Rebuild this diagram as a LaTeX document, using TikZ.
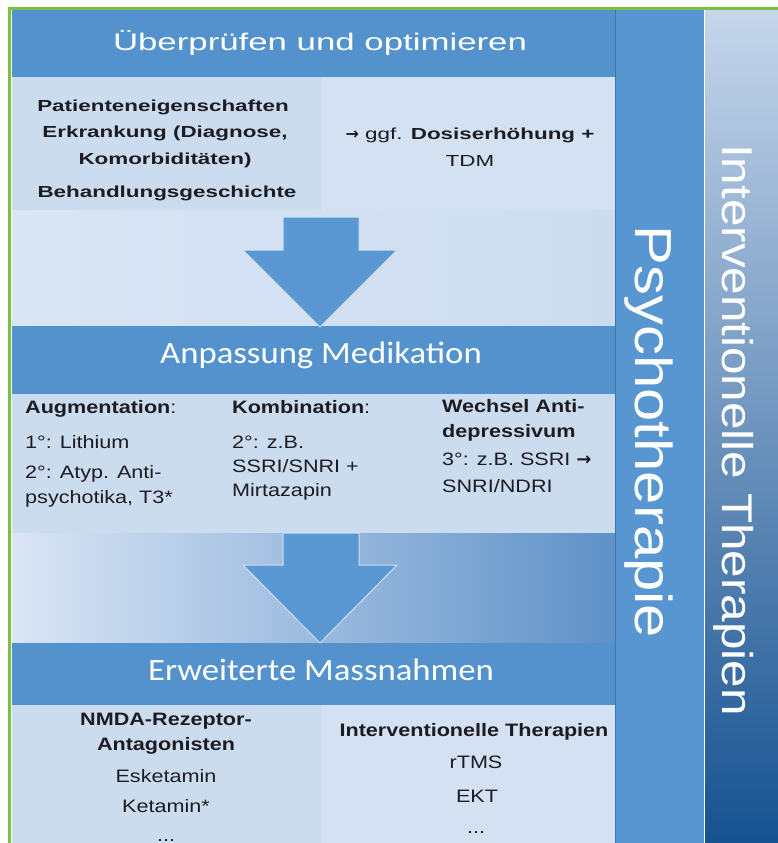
\documentclass[tikz,border=0pt]{standalone}
\usepackage{fontspec}
\usepackage{tikz}
\setmainfont{Liberation Sans}
\newfontfamily\hdfont{Liberation Sans}[FakeStretch=1.45]
\newfontfamily\calfont{Carlito}[FakeStretch=1.12]
\newfontfamily\wideA{Liberation Sans}[FakeStretch=1.4]
\newfontfamily\wideB{Liberation Sans}[FakeStretch=1.2]
\newfontfamily\vertfont{Liberation Sans}[FakeStretch=1.15]
\newfontfamily\arrfont{DejaVu Sans}
\definecolor{frame}{RGB}{122,193,66}
\definecolor{hdr}{RGB}{84,146,205}
\definecolor{cell}{RGB}{204,220,239}
\definecolor{cellB}{RGB}{212,225,242}
\definecolor{zone}{RGB}{218,229,245}
\definecolor{psy}{RGB}{88,150,209}
\definecolor{arrowfill}{RGB}{90,152,212}
\definecolor{ivtop}{RGB}{198,214,235}
\definecolor{ivmid}{RGB}{95,145,200}
\definecolor{ivbot}{RGB}{22,82,145}
\definecolor{txt}{RGB}{28,28,34}

\begin{document}
\begin{tikzpicture}[x=1pt, y=-1pt,
  lbl/.style={inner sep=0pt, anchor=base, text=txt},
  lblL/.style={lbl, anchor=base west, align=left},
  hdrtxt/.style={lbl, text=white},
  vtxt/.style={lbl, text=white, rotate=-90},
  bodyA/.style={font=\wideA\fontsize{16}{27}\selectfont},
  bodyAbf/.style={font=\wideA\bfseries\fontsize{16}{27}\selectfont},
  bodyB/.style={font=\wideB\fontsize{18}{25}\selectfont},
  bodyBbf/.style={font=\wideB\bfseries\fontsize{18}{25}\selectfont},
  blockarrow/.style={fill=arrowfill, draw=white!70!arrowfill, line width=1pt, line join=miter}]
\useasboundingbox (0,0) rectangle (778,843);
\fill[white] (0,0) rectangle (778,843);

\fill[cell] (12,77) rectangle (322,210);
\fill[cellB] (322,77) rectangle (615,210);
\fill[left color=zone, right color=cell] (12,210) rectangle (615,326);
\fill[cell] (12,394) rectangle (615,533);
\shade[left color=zone, middle color=cell, right color=ivmid] (12,533) rectangle (615,643);
\fill[cell] (12,705) rectangle (322,843);
\fill[cellB] (322,705) rectangle (615,843);

\fill[hdr] (12,10) rectangle (615,77);
\fill[hdr] (12,326) rectangle (615,394);
\fill[hdr] (12,643) rectangle (615,705);

\fill[psy] (615,10) rectangle (704,843);
\draw[hdr!80!black, line width=0.6pt] (615,10) -- (615,843);
\shade[top color=ivtop, middle color=ivmid, bottom color=ivbot] (705,10) rectangle (778,843);
\draw[frame, line width=3pt] (9.5,843) -- (9.5,8.5) -- (778,8.5);

\foreach \top/\base/\tip in {217/250/327, 533/565/643}
  \draw[blockarrow] (283,\top) -- (359,\top) -- (359,\base) -- (397,\base) -- (320,\tip) -- (243,\base) -- (283,\base) -- cycle;

\node[hdrtxt, font=\hdfont\fontsize{24}{28}\selectfont] (hdrA) at (320,51) {Überprüfen und optimieren};
\node[hdrtxt, font=\calfont\fontsize{31}{36}\selectfont] (hdrB) at (321,363) {Anpassung Medikation};
\node[hdrtxt, font=\calfont\fontsize{31}{36}\selectfont] (hdrC) at (321,680) {Erweiterte Massnahmen};

\node[lbl, bodyAbf] (pat) at (163,111) {Patienteneigenschaften};
\node[lbl, bodyAbf, align=center] (erk) at (165,164) {Erkrankung (Diagnose,\\Komorbiditäten)};
\node[lbl, bodyAbf] (beh) at (167,197) {Behandlungsgeschichte};
\node[lbl, bodyA, align=center] (dos) at (470,166) {{\arrfont\bfseries →} ggf. \textbf{Dosiserhöhung +}\\TDM};

\node[lblL, bodyB] (aug) at (25,413) {\textbf{Augmentation}:};
\node[lblL, bodyB] (augA) at (25,448) {1°: Lithium};
\node[lblL, bodyB] (augB) at (25,503) {2°: Atyp. Anti-\\psychotika, T3*};
\node[lblL, bodyB] (kom) at (232,413) {\textbf{Kombination}:};
\node[lblL, bodyB, font=\wideB\fontsize{18}{24}\selectfont] (komA) at (232,496) {2°: z.B.\\SSRI/SNRI +\\Mirtazapin};
\node[lblL, bodyBbf] (wec) at (442,437) {Wechsel Anti-\\depressivum};
\node[lblL, bodyB, font=\wideB\fontsize{18}{27}\selectfont] (wecA) at (442,492) {3°: z.B. SSRI {\arrfont\bfseries →}\\SNRI/NDRI};

\node[lbl, bodyBbf, align=center] (nmda) at (166,750) {NMDA-Rezeptor-\\Antagonisten};
\node[lbl, bodyB] (esk) at (166,782) {Esketamin};
\node[lbl, bodyB] (ket) at (166,812) {Ketamin*};
\node[lbl, bodyB] (nmdaX) at (166,841) {...};
\node[lbl, bodyBbf] (int) at (474,736) {Interventionelle Therapien};
\node[lbl, bodyB] (rtms) at (476,768) {rTMS};
\node[lbl, bodyB] (ekt) at (477,802) {EKT};
\node[lbl, bodyB] (intX) at (476,833) {...};

\node[vtxt, font=\vertfont\fontsize{52}{60}\selectfont] (psyT) at (635,432) {Psychotherapie};
\node[vtxt, font=\vertfont\fontsize{43}{50}\selectfont] (ivT) at (722,430) {Interventionelle Therapien};
\end{tikzpicture}
\end{document}
